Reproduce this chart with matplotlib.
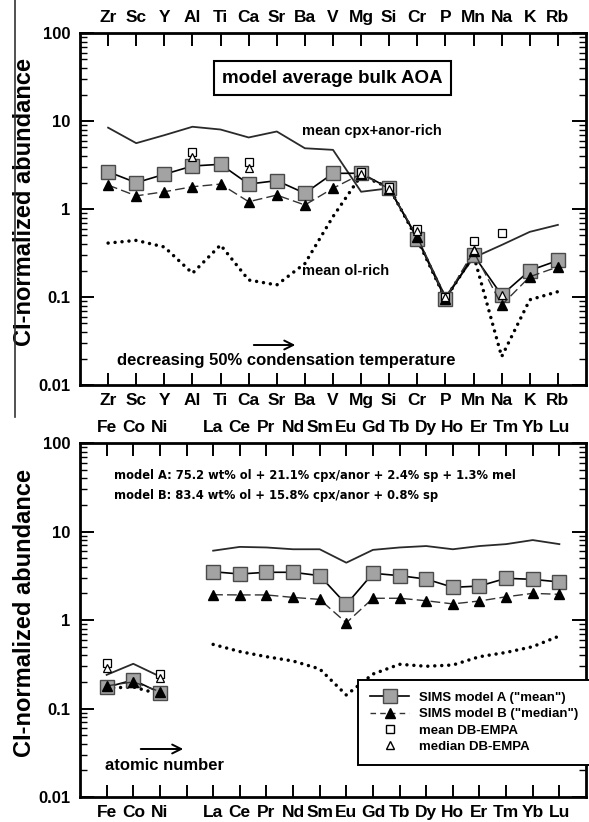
import numpy as np
import matplotlib
matplotlib.use("Agg")
import matplotlib.pyplot as plt
from matplotlib.lines import Line2D
from matplotlib.ticker import LogLocator, NullFormatter

plt.rcParams['font.family'] = ['Liberation Sans', 'DejaVu Sans']
plt.rcParams['font.weight'] = 'bold'

nan = np.nan

# ---------------- top panel data ----------------
top_elems = ['Zr', 'Sc', 'Y', 'Al', 'Ti', 'Ca', 'Sr', 'Ba', 'V', 'Mg', 'Si',
             'Cr', 'P', 'Mn', 'Na', 'K', 'Rb']
top_cpx = [8.4, 5.6, 6.9, 8.6, 8.0, 6.5, 7.6, 4.9, 4.7, 1.57, 1.72,
           0.47, 0.10, 0.28, 0.39, 0.55, 0.66]
top_ol = [0.41, 0.44, 0.37, 0.186, 0.39, 0.156, 0.137, 0.24, 0.82, 2.4, 1.75,
          0.45, 0.095, 0.30, 0.021, 0.093, 0.115]
top_modelA = [2.65, 1.99, 2.48, 3.08, 3.22, 1.92, 2.10, 1.51, 2.54, 2.55, 1.72,
              0.46, 0.094, 0.30, 0.105, 0.20, 0.26]
top_modelB = [1.87, 1.41, 1.57, 1.79, 1.92, 1.21, 1.44, 1.11, 1.72, 2.5, 1.70,
              0.485, 0.095, 0.33, 0.081, 0.17, 0.22]
top_meanDB = [nan, nan, nan, 4.48, nan, 3.45, nan, nan, nan, 2.62, 1.76,
              0.60, 0.10, 0.43, 0.54, nan, nan]
top_medianDB = [nan, nan, nan, 3.93, nan, 2.90, nan, nan, nan, 2.5, 1.70,
                0.56, 0.10, 0.34, 0.105, nan, nan]

# ---------------- bottom panel data ----------------
bot_elems = ['Fe', 'Co', 'Ni', '', 'La', 'Ce', 'Pr', 'Nd', 'Sm', 'Eu', 'Gd',
             'Tb', 'Dy', 'Ho', 'Er', 'Tm', 'Yb', 'Lu']
bot_cpx = [0.24, 0.32, 0.23, nan, 6.07, 6.7, 6.6, 6.3, 6.3, 4.44, 6.2,
           6.6, 6.85, 6.3, 6.85, 7.2, 8.0, 7.2]
bot_ol = [0.17, 0.175, 0.145, nan, 0.53, 0.44, 0.385, 0.344, 0.28, 0.142, 0.245,
          0.316, 0.30, 0.31, 0.385, 0.43, 0.50, 0.66]
bot_modelA = [0.174, 0.21, 0.151, nan, 3.51, 3.31, 3.46, 3.46, 3.17, 1.50, 3.37,
              3.17, 2.90, 2.34, 2.42, 2.96, 2.88, 2.69]
bot_modelB = [0.18, 0.20, 0.155, nan, 1.93, 1.92, 1.92, 1.80, 1.71, 0.93, 1.76,
              1.76, 1.65, 1.52, 1.64, 1.83, 2.0, 1.95]
bot_meanDB = [0.33, nan, 0.245, nan] + [nan] * 14
bot_medianDB = [0.285, nan, 0.223, nan] + [nan] * 14

W, H = 589, 822
fig = plt.figure(figsize=(W / 100, H / 100), dpi=100)

def axes_rect(left, top, right, bottom):
    return [left / W, 1 - bottom / H, (right - left) / W, (bottom - top) / H]

ax1 = fig.add_axes(axes_rect(80, 33, 586, 385))
ax2 = fig.add_axes(axes_rect(80, 443, 586, 797))

LINE_C = '#2a2a2a'
SQ_FACE = '#a3a3a3'
SQ_EDGE = '#4a4a4a'

def draw(ax, labels, cpx, ol, A, B, meanDB, medDB):
    x = np.arange(len(labels))
    ax.plot(x, cpx, color=LINE_C, lw=1.3, zorder=2)
    ax.plot(x, ol, color='black', lw=2.5, linestyle=(0, (0.01, 2.0)),
            dash_capstyle='round', zorder=2)
    ax.plot(x, B, color='#333333', lw=1.0, dashes=(7, 3), marker='^',
            ms=7, mfc='black', mec='black', zorder=4)
    ax.plot(x, A, color='black', lw=1.2, marker='s', ms=9.5,
            mfc=SQ_FACE, mec=SQ_EDGE, mew=1.0, zorder=3)
    ax.plot(x, meanDB, ls='none', marker='s', ms=5.5, mfc='white',
            mec='black', mew=0.9, zorder=5)
    ax.plot(x, medDB, ls='none', marker='^', ms=6, mfc='white',
            mec='black', mew=0.9, zorder=5)

    ax.set_yscale('log')
    ax.set_ylim(0.01, 100)
    ax.set_xlim(-1, len(labels))
    ax.set_xticks(x)
    ax.set_xticklabels(labels)
    ax.tick_params(axis='x', which='both', direction='in', top=True,
                   bottom=True, labeltop=True, labelbottom=True,
                   length=9, width=1.4, labelsize=12.5, pad=6)
    ax.tick_params(axis='y', which='major', direction='in', left=True,
                   right=True, length=10, width=1.4, labelsize=12, pad=7)
    ax.tick_params(axis='y', which='minor', direction='in', left=True,
                   right=True, length=5, width=1.0)
    ax.yaxis.set_minor_locator(LogLocator(base=10, subs=np.arange(2, 10),
                                          numticks=100))
    ax.yaxis.set_minor_formatter(NullFormatter())
    ax.set_yticks([0.01, 0.1, 1, 10, 100])
    ax.set_yticklabels(['0.01', '0.1', '1', '10', '100'])
    for lab in ax.get_xticklabels() + ax.get_yticklabels():
        lab.set_fontweight('bold')
    for s in ax.spines.values():
        s.set_linewidth(2.0)
    ax.set_ylabel('CI-normalized abundance', fontsize=17, fontweight='bold')
    ax.yaxis.set_label_coords(-0.086, 0.52)

draw(ax1, top_elems, top_cpx, top_ol, top_modelA, top_modelB,
     top_meanDB, top_medianDB)
draw(ax2, bot_elems, bot_cpx, bot_ol, bot_modelA, bot_modelB,
     bot_meanDB, bot_medianDB)

# ---- top panel annotations ----
ax1.text(0.499, 0.871, 'model average bulk AOA', transform=ax1.transAxes,
         ha='center', va='center', fontsize=13.5, fontweight='bold',
         bbox=dict(boxstyle='square,pad=0.45', fc='white', ec='black', lw=1.5))
ax1.text(0.439, 0.7216, 'mean cpx+anor-rich', transform=ax1.transAxes,
         ha='left', va='center', fontsize=10.5, fontweight='bold')
ax1.text(0.439, 0.3248, 'mean ol-rich', transform=ax1.transAxes,
         ha='left', va='center', fontsize=10.5, fontweight='bold')
ax1.annotate('', xy=(0.431, 0.1136), xytext=(0.338, 0.1136),
             xycoords='axes fraction', textcoords='axes fraction',
             arrowprops=dict(arrowstyle='->', lw=1.4, color='black',
                             mutation_scale=16))
ax1.text(0.407, 0.071, 'decreasing 50% condensation temperature',
         transform=ax1.transAxes, ha='center', va='center', fontsize=12,
         fontweight='bold')

# ---- bottom panel annotations ----
ax2.text(0.067, 0.9096,
         'model A: 75.2 wt% ol + 21.1% cpx/anor + 2.4% sp + 1.3% mel',
         transform=ax2.transAxes, ha='left', va='center', fontsize=8.3,
         fontweight='bold', family='DejaVu Sans')
ax2.text(0.067, 0.853, 'model B: 83.4 wt% ol + 15.8% cpx/anor + 0.8% sp',
         transform=ax2.transAxes, ha='left', va='center', fontsize=8.3,
         fontweight='bold', family='DejaVu Sans')
ax2.annotate('', xy=(0.2095, 0.1356), xytext=(0.1146, 0.1356),
             xycoords='axes fraction', textcoords='axes fraction',
             arrowprops=dict(arrowstyle='->', lw=1.4, color='black',
                             mutation_scale=16))
ax2.text(0.049, 0.0884, 'atomic number', transform=ax2.transAxes,
         ha='left', va='center', fontsize=12, fontweight='bold')

# ---- legend ----
handles = [
    Line2D([], [], color='black', lw=1.2, marker='s', ms=9.5, mfc=SQ_FACE,
           mec=SQ_EDGE),
    Line2D([], [], color='#333333', lw=1.0, dashes=(4, 3), marker='^', ms=7,
           mfc='black', mec='black'),
    Line2D([], [], ls='none', marker='s', ms=5.5, mfc='white', mec='black'),
    Line2D([], [], ls='none', marker='^', ms=6, mfc='white', mec='black'),
]
labels = ['SIMS model A ("mean")', 'SIMS model B ("median")',
          'mean DB-EMPA', 'median DB-EMPA']
leg = fig.legend(handles, labels, loc='upper left',
                 bbox_to_anchor=(358 / W, 1 - 680 / H),
                 bbox_transform=fig.transFigure, borderaxespad=0,
                 prop=dict(size=9.5, weight='bold'), frameon=True,
                 fancybox=False, framealpha=1, edgecolor='black',
                 handlelength=3.0, handletextpad=0.7, labelspacing=0.3,
                 borderpad=0.9)
leg.get_frame().set_linewidth(1.4)
leg.set_zorder(10)

# left border line of the original figure panel
fig.add_artist(Line2D([15 / W, 15 / W], [1.0, 1 - 417 / H],
                      transform=fig.transFigure, color='#333333', lw=1.2))

fig.savefig('out.png', dpi=100)
